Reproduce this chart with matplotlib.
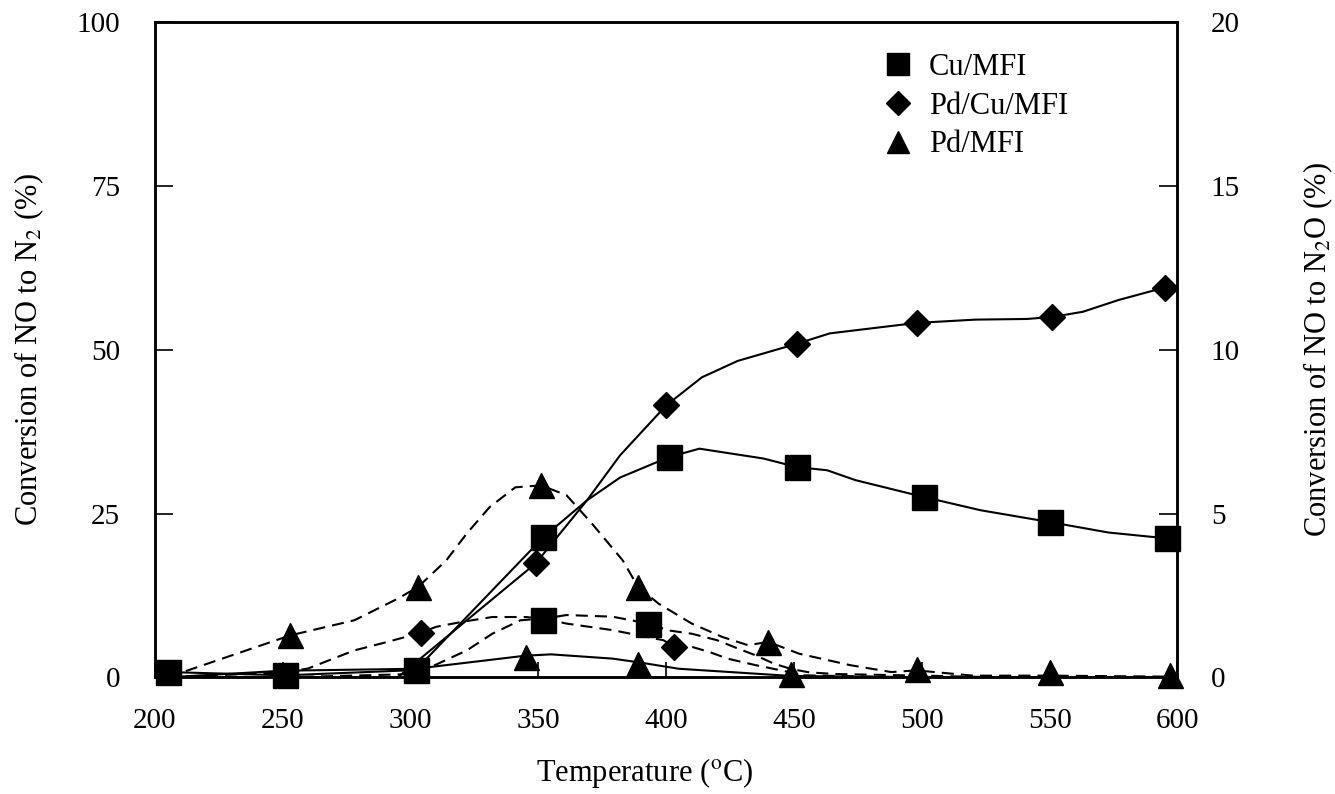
import matplotlib
matplotlib.use('Agg')
import matplotlib.pyplot as plt
from matplotlib.lines import Line2D

plt.rcParams['font.family'] = ['Liberation Serif', 'DejaVu Serif']
plt.rcParams['mathtext.fontset'] = 'stix'

# ---- conversion of NO to N2 (left axis, %), solid curves ----
cu_n2_t = [205, 251, 302, 352, 369, 382, 401, 413, 438, 451, 463, 474, 501, 523, 550, 573, 596]
cu_n2 = [0.8, 0.3, 1.1, 21.4, 27.0, 30.5, 33.6, 34.9, 33.4, 32.1, 31.6, 30.1, 27.5, 25.5, 23.7, 22.1, 21.2]
cu_n2_mt = [205, 251, 302, 352, 401, 451, 501, 550, 596]
cu_n2_m = [0.8, 0.3, 1.1, 21.4, 33.6, 32.1, 27.5, 23.7, 21.2]

pdcu_n2_t = [205, 251, 295, 349, 369, 382, 400, 414, 428, 451, 464, 498, 521, 541, 551, 563, 577, 595]
pdcu_n2 = [0, 0, 0, 17.4, 27.0, 33.9, 41.5, 45.8, 48.3, 50.9, 52.5, 54.1, 54.6, 54.7, 55.0, 55.8, 57.6, 59.5]
pdcu_n2_mt = [349, 400, 451, 498, 551, 595]
pdcu_n2_m = [17.4, 41.5, 50.9, 54.1, 55.0, 59.5]

pd_n2_t = [205, 250, 302, 345, 355, 379, 389, 405, 449, 500, 550, 597]
pd_n2 = [0, 1.0, 1.3, 3.3, 3.5, 2.85, 2.3, 1.3, 0.2, 0, 0, 0]
pd_n2_mt = [345, 389, 449]
pd_n2_m = [3.1, 2.1, 0.5]

# ---- conversion of NO to N2O (right axis, %), dashed curves ----
cu_n2o_t = [205, 251, 302, 322, 332, 343, 353, 361, 379, 393, 401, 410, 420, 428, 435, 442, 449, 456, 466, 500, 530, 596]
cu_n2o = [0, 0, 0.1, 0.82, 1.33, 1.74, 1.8, 1.9, 1.85, 1.64, 1.43, 1.33, 1.13, 0.88, 0.67, 0.42, 0.25, 0.15, 0.1, 0.05, 0, 0]
cu_n2o_mt = [352, 393]
cu_n2o_m = [1.74, 1.64]

pdcu_n2o_t = [205, 251, 260, 278, 291, 304, 310, 320, 332, 345, 353, 361, 379, 399, 403, 410, 417, 424, 435, 445, 454, 480, 500, 596]
pdcu_n2o = [0, 0.15, 0.27, 0.82, 1.08, 1.36, 1.54, 1.69, 1.84, 1.84, 1.78, 1.64, 1.44, 1.13, 0.93, 0.93, 0.77, 0.57, 0.37, 0.21, 0.06, 0.02, 0, 0]
pdcu_n2o_mt = [304, 403]
pdcu_n2o_m = [1.36, 0.93]

pd_n2o_t = [205, 253, 278, 295, 303, 314, 322, 331, 341, 351, 361, 371, 383, 389, 397, 410, 422, 432, 440, 452, 472, 488, 498, 520, 550, 597]
pd_n2o = [0, 1.28, 1.74, 2.4, 2.76, 3.57, 4.39, 5.2, 5.8, 5.86, 5.56, 4.69, 3.57, 2.76, 2.25, 1.64, 1.23, 0.98, 1.08, 0.72, 0.37, 0.16, 0.21, 0.05, 0.05, 0.02]
pd_n2o_mt = [253, 303, 351, 389, 440, 498, 550, 597]
pd_n2o_m = [1.28, 2.76, 5.86, 2.76, 1.08, 0.25, 0.15, 0.06]

fig = plt.figure(figsize=(13.35, 7.94), dpi=100)
ax = fig.add_axes([0.116, 0.147, 0.766, 0.825])
ax2 = ax.twinx()

lw = 1.5
dash = (5.8, 3.4)
msq, mdi, mtr = 18, 13, 18

ax.plot(cu_n2_t, cu_n2, '-', color='k', lw=lw)
ax.plot(pdcu_n2_t, pdcu_n2, '-', color='k', lw=lw)
ax.plot(pd_n2_t, pd_n2, '-', color='k', lw=lw)
ax.plot(cu_n2_mt, cu_n2_m, ls='none', marker='s', ms=msq, color='k', clip_on=False, zorder=5)
ax.plot(pdcu_n2_mt, pdcu_n2_m, ls='none', marker='D', ms=mdi, color='k', clip_on=False, zorder=5)
ax.plot(pd_n2_mt, pd_n2_m, ls='none', marker='^', ms=mtr, color='k', clip_on=False, zorder=5)

ax2.plot(cu_n2o_t, cu_n2o, '--', dashes=dash, color='k', lw=lw)
ax2.plot(pdcu_n2o_t, pdcu_n2o, '--', dashes=dash, color='k', lw=lw)
ax2.plot(pd_n2o_t, pd_n2o, '--', dashes=dash, color='k', lw=lw)
ax2.plot(cu_n2o_mt, cu_n2o_m, ls='none', marker='s', ms=msq, color='k', clip_on=False, zorder=5)
ax2.plot(pdcu_n2o_mt, pdcu_n2o_m, ls='none', marker='D', ms=mdi, color='k', clip_on=False, zorder=5)
ax2.plot(pd_n2o_mt, pd_n2o_m, ls='none', marker='^', ms=mtr, color='k', clip_on=False, zorder=5)

ax.set_xlim(200, 600)
ax.set_ylim(0, 100)
ax2.set_ylim(0, 20)
ax.set_xticks(range(200, 601, 50))
ax.set_yticks([0, 25, 50, 75, 100])
ax2.set_yticks([0, 5, 10, 15, 20])

for a in (ax, ax2):
    for s in a.spines.values():
        s.set_linewidth(1.8)
ax.tick_params(axis='x', direction='in', length=11, width=1.2, pad=22, labelsize=21)
ax.tick_params(axis='y', direction='in', length=13, width=1.2, pad=25, labelsize=21)
ax2.tick_params(axis='y', direction='in', length=13, width=1.2, pad=24, labelsize=21)

ax.set_xlabel(r'Temperature ($^{\rm o}$C)', fontsize=22, labelpad=20)
ax.xaxis.set_label_coords(0.479, -0.12)
ax.set_ylabel(r'Conversion of NO to N$_2$ (%)', fontsize=22, labelpad=22)
ax2.set_ylabel(r'Conversion of NO to N$_2$O (%)', fontsize=22, labelpad=44)

handles = [Line2D([], [], ls='none', marker='s', ms=16, color='k'),
           Line2D([], [], ls='none', marker='D', ms=12, color='k'),
           Line2D([], [], ls='none', marker='^', ms=16, color='k')]
ax2.legend(handles, ['Cu/MFI', 'Pd/Cu/MFI', 'Pd/MFI'], loc='upper left',
           bbox_to_anchor=(0.7, 0.972), frameon=False, fontsize=22,
           handlelength=1.0, handletextpad=0.5, labelspacing=0.32, borderaxespad=0)

fig.savefig('out.png', dpi=100)
